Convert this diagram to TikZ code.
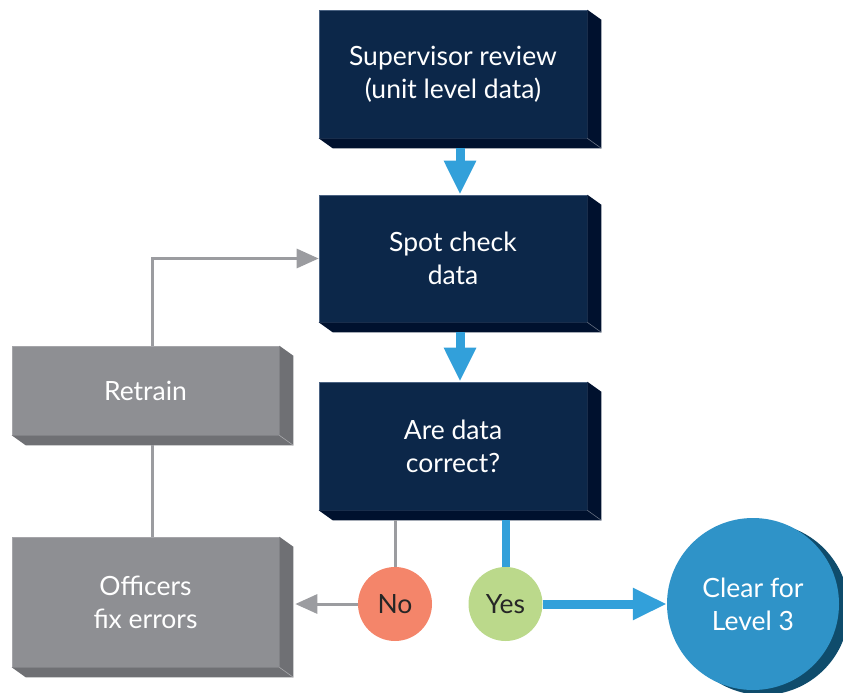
\documentclass[tikz,border=0pt]{standalone}
\usepackage{fontspec}
\setmainfont{Lato}
\usetikzlibrary{arrows.meta,calc}
\definecolor{navy}{HTML}{0C2749}
\definecolor{navydark}{HTML}{00112E}
\definecolor{navyedge}{HTML}{4A6282}
\definecolor{skyblue}{HTML}{32A0DA}
\definecolor{boxgray}{HTML}{8E8F93}
\definecolor{boxgraydark}{HTML}{6F7074}
\definecolor{linegray}{HTML}{9B9CA0}
\definecolor{nored}{HTML}{F4856A}
\definecolor{yesgreen}{HTML}{BBD98B}
\definecolor{clearblue}{HTML}{2F93C8}
\definecolor{cleardark}{HTML}{0F4C6C}
\newcommand\boxdepth[2]{%
  \fill[#2] (#1.north east) -- ++(14,10) -- ($(#1.south east)+(14,10)$) -- ($(#1.south west)+(14,10)$) -- (#1.south west) -- (#1.south east) -- cycle;
  \draw[white!40!#2, line width=0.6] (#1.south east) -- ++(14,10);}
\begin{document}
\begin{tikzpicture}[x=1pt,y=-1pt,
  font=\fontsize{26.5}{33}\selectfont,
  navybox/.style={rectangle, fill=navy, draw=navyedge, line width=0.6, text=white, align=center, minimum width=268, inner sep=0},
  graybox/.style={rectangle, fill=boxgray, draw=boxgray!80!white, line width=0.6, text=white, align=center, minimum width=267, inner sep=0},
  dot/.style={circle, minimum size=74, inner sep=0, text=black!85},
  bluearrow/.style={draw=skyblue, line width=9, -{Triangle[width=30,length=34]}},
  blueline/.style={draw=skyblue, line width=8},
  grayarrow/.style={draw=linegray, line width=3, -{Triangle[width=19,length=22]}},
  grayline/.style={draw=linegray, line width=3}]
\useasboundingbox (0,0) rectangle (843,693);
% boxes
\node[navybox, minimum height=128] (b1) at (453,74) {Supervisor review\\(unit level data)};
\boxdepth{b1}{navydark}
\node[navybox, minimum height=127] (b2) at (453,258.5) {Spot check\\data};
\boxdepth{b2}{navydark}
\node[navybox, minimum height=128] (b3) at (453,446) {Are data\\correct?};
\boxdepth{b3}{navydark}
\node[graybox, minimum height=89] (rt) at (145.5,390.5) {Retrain};
\boxdepth{rt}{boxgraydark}
\node[graybox, minimum height=130] (of) at (145.5,602) {Officers\\fix errors};
\boxdepth{of}{boxgraydark}
% circles
\node[dot, fill=nored] (no) at (395,604) {No};
\node[dot, fill=yesgreen] (yes) at (505.5,604) {Yes};
\fill[cleardark] (763,609) circle (86);
\node[circle, fill=clearblue, minimum size=172, inner sep=0, text=white, align=center] (cl) at (753,604) {Clear for\\Level 3};
% connectors
\draw[bluearrow] ($(b1.south)+(7,10)$) -- ($(b2.north)+(7,0)$);
\draw[bluearrow] ($(b2.south)+(7,10)$) -- ($(b3.north)+(7,0)$);
\draw[blueline] ($(b3.south)+(52.5,10)$) -- (yes.north);
\draw[bluearrow] (yes.east) -- (cl.west);
\draw[grayline] ($(b3.south)+(-58,10)$) -- (no.north);
\draw[grayarrow] (no.west) -- ($(of.east)+(16,2)$);
\draw[grayline] ($(rt.south)+(7,10)$) -- ($(of.north)+(7,0)$);
\draw[grayarrow] ($(rt.north)+(7,0)$) |- (b2.west);
\end{tikzpicture}
\end{document}
